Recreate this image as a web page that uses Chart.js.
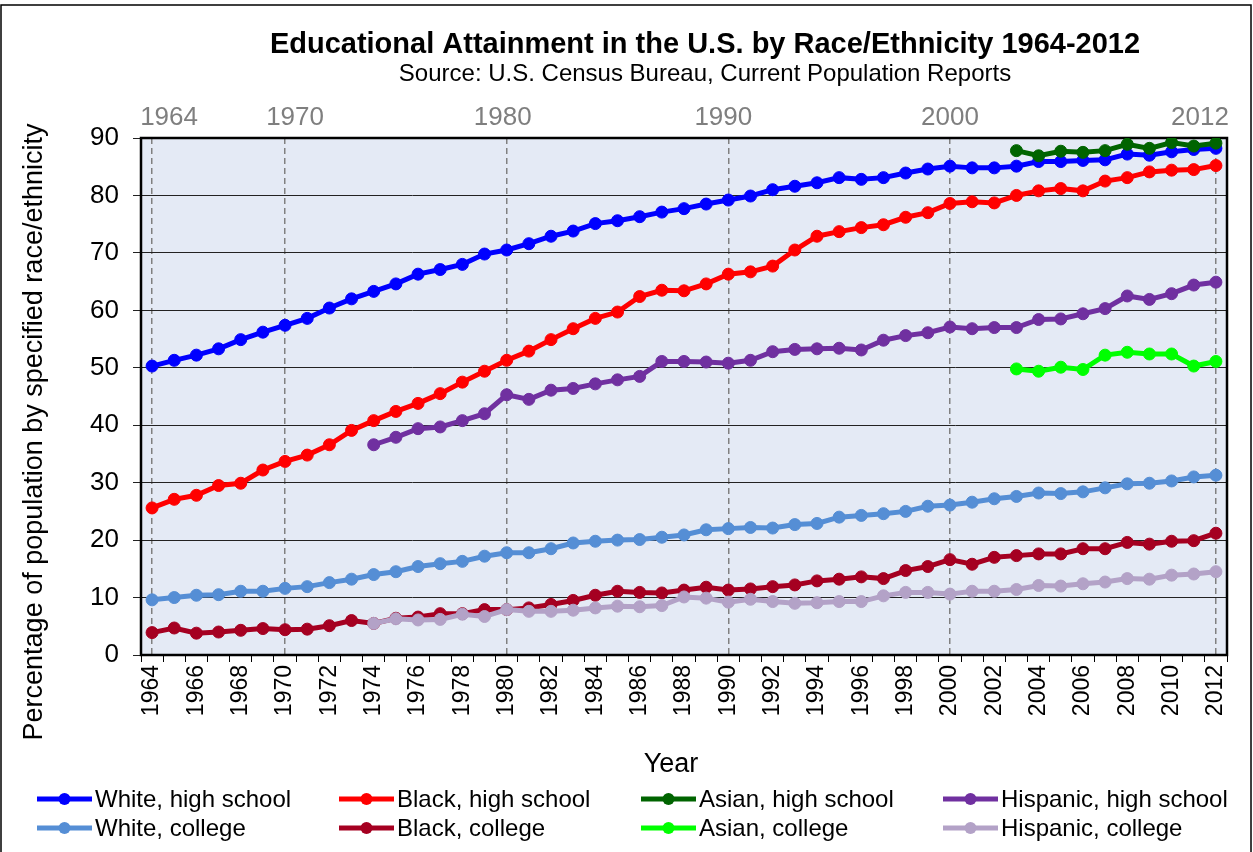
<!DOCTYPE html>
<html>
<head>
<meta charset="utf-8">
<title>Educational Attainment in the U.S. by Race/Ethnicity 1964-2012</title>
<script src="https://cdn.jsdelivr.net/npm/chart.js@4.4.1/dist/chart.umd.min.js"></script>
<style>
    html, body { margin: 0; padding: 0; background: #fff; }
    #wrap { width: 1253px; height: 852px; }
</style>
</head>
<body>
<div id="wrap"><canvas id="chart" width="1253" height="852"></canvas></div>
<script>
"use strict";

var FONT = "'Liberation Sans', Arial, sans-serif";

/* survey years on the x axis */
var years = ["1964", "1965", "1966", "1967", "1968", "1969", "1970", "1971", "1972", "1973",
             "1974", "1975", "1976", "1977", "1978", "1979", "1980", "1981", "1982", "1983",
             "1984", "1985", "1986", "1987", "1988", "1989", "1990", "1991", "1992", "1993",
             "1994", "1995", "1996", "1997", "1998", "1999", "2000", "2001", "2002", "2003",
             "2004", "2005", "2006", "2007", "2008", "2009", "2010", "2011", "2012"];
/* Hispanic figures start in 1974, Asian figures in 2003 */
var hispanicYears = years.slice(10);
var asianYears = years.slice(39);

/* years that get a dashed marker line and a label above the plot */
var markerYears = ["1964", "1970", "1980", "1990", "2000", "2012"];

/* percent with high school diploma */
var whiteHigh = [50.3, 51.3, 52.2, 53.3, 54.9, 56.2, 57.4, 58.6, 60.4, 62.0,
                 63.3, 64.6, 66.3, 67.1, 68.0, 69.8, 70.5, 71.6, 72.9, 73.8,
                 75.1, 75.6, 76.3, 77.1, 77.7, 78.5, 79.2, 79.9, 81.0, 81.6,
                 82.2, 83.1, 82.8, 83.1, 83.9, 84.6, 85.1, 84.8, 84.8, 85.1,
                 85.9, 85.9, 86.1, 86.2, 87.2, 87.0, 87.6, 88.0, 88.2];
var blackHigh = [25.6, 27.1, 27.8, 29.5, 29.9, 32.2, 33.7, 34.8, 36.6, 39.1,
                 40.8, 42.4, 43.8, 45.5, 47.5, 49.4, 51.3, 52.9, 54.9, 56.8,
                 58.6, 59.7, 62.4, 63.5, 63.4, 64.6, 66.3, 66.7, 67.7, 70.5,
                 72.9, 73.7, 74.4, 74.9, 76.2, 77.0, 78.6, 78.9, 78.7, 80.0,
                 80.8, 81.2, 80.8, 82.5, 83.1, 84.1, 84.4, 84.5, 85.2];
var asianHigh = [87.8, 86.9, 87.7, 87.5, 87.8, 88.9, 88.2, 89.2, 88.6, 89.1];
var hispanicHigh = [36.6, 37.9, 39.4, 39.7, 40.8, 42.0, 45.3, 44.5, 46.1, 46.4,
                    47.2, 47.9, 48.5, 51.1, 51.1, 51.0, 50.8, 51.3, 52.8, 53.2,
                    53.3, 53.4, 53.1, 54.8, 55.6, 56.1, 57.1, 56.8, 57.0, 57.0,
                    58.4, 58.5, 59.4, 60.3, 62.5, 61.9, 62.9, 64.4, 64.9];

/* percent with a college degree */
var whiteCollege = [9.6, 10.0, 10.4, 10.5, 11.1, 11.1, 11.6, 11.9, 12.6, 13.2,
                    14.0, 14.5, 15.4, 15.9, 16.3, 17.2, 17.8, 17.8, 18.5, 19.5,
                    19.8, 20.0, 20.1, 20.5, 20.9, 21.8, 22.0, 22.2, 22.1, 22.7,
                    22.9, 24.0, 24.3, 24.6, 25.0, 25.9, 26.1, 26.6, 27.2, 27.6,
                    28.2, 28.1, 28.4, 29.1, 29.8, 29.9, 30.3, 31.0, 31.3];
var blackCollege = [3.9, 4.7, 3.8, 4.0, 4.3, 4.6, 4.4, 4.5, 5.1, 6.0,
                    5.5, 6.4, 6.6, 7.2, 7.2, 7.9, 7.9, 8.2, 8.8, 9.5,
                    10.4, 11.1, 10.9, 10.8, 11.3, 11.8, 11.3, 11.5, 11.9, 12.2,
                    12.9, 13.2, 13.6, 13.3, 14.7, 15.4, 16.6, 15.8, 17.0, 17.3,
                    17.6, 17.6, 18.5, 18.5, 19.6, 19.3, 19.8, 19.9, 21.2];
var asianCollege = [49.8, 49.4, 50.1, 49.7, 52.2, 52.7, 52.4, 52.4, 50.3, 51.1];
var hispanicCollege = [5.5, 6.3, 6.1, 6.2, 7.1, 6.7, 7.9, 7.6, 7.6, 7.8,
                       8.2, 8.5, 8.4, 8.6, 10.1, 9.9, 9.2, 9.7, 9.3, 9.0,
                       9.1, 9.3, 9.3, 10.3, 10.9, 10.9, 10.6, 11.1, 11.1, 11.4,
                       12.1, 12.0, 12.4, 12.7, 13.3, 13.2, 13.9, 14.1, 14.5];

var yTicks = [0, 10, 20, 30, 40, 50, 60, 70, 80, 90];

// pair a series with its years so it lines up on the category axis
function pts(yrs, vals) {
    var out = [];
    for (var i = 0; i < vals.length; i++) {
        out.push({ x: yrs[i], y: vals[i] });
    }
    return out;
}

function series(label, color, data) {
    return {
        label: label,
        data: data,
        borderColor: color,
        backgroundColor: color,
        pointBackgroundColor: color,
        pointBorderColor: color,
        borderWidth: 5,
        pointRadius: 6,
        pointBorderWidth: 1,
        tension: 0,
        spanGaps: false
    };
}

var datasets = [
    series("White, high school", "#0000FF", pts(years, whiteHigh)),
    series("Black, high school", "#FF0000", pts(years, blackHigh)),
    series("Asian, high school", "#006400", pts(asianYears, asianHigh)),
    series("Hispanic, high school", "#7030A0", pts(hispanicYears, hispanicHigh)),
    series("White, college", "#558ED5", pts(years, whiteCollege)),
    series("Black, college", "#A50021", pts(years, blackCollege)),
    series("Asian, college", "#00FF00", pts(asianYears, asianCollege)),
    series("Hispanic, college", "#B3A2C7", pts(hispanicYears, hispanicCollege))
];
// later series paint over earlier ones
for (var d = 0; d < datasets.length; d++) {
    datasets[d].order = datasets.length - d;
}

/* plot background, frame, titles and the two-row legend */
var decorations = {
    id: "decorations",
    beforeDraw: function (chart) {
        var ctx = chart.ctx;
        var a = chart.chartArea;
        ctx.save();
        ctx.fillStyle = "#fff";
        ctx.fillRect(0, 0, chart.width, chart.height);
        ctx.fillStyle = "#E4EAF5";
        ctx.fillRect(a.left, a.top, a.right - a.left, a.bottom - a.top);
        ctx.restore();
    },
    beforeDatasetsDraw: function (chart) {
        var ctx = chart.ctx;
        var a = chart.chartArea;
        ctx.save();
        ctx.strokeStyle = "#000";
        ctx.lineWidth = 2.5;
        ctx.strokeRect(a.left, a.top, a.right - a.left, a.bottom - a.top);
        ctx.restore();
    },
    afterDraw: function (chart) {
        var ctx = chart.ctx;
        var xs = chart.scales.x;
        ctx.save();

        // outer frame
        ctx.strokeStyle = "#000";
        ctx.lineWidth = 1.5;
        ctx.strokeRect(1, 5, chart.width - 3, chart.height + 10);

        ctx.fillStyle = "#000";
        ctx.textAlign = "center";
        ctx.textBaseline = "middle";
        ctx.font = "bold 29px " + FONT;
        ctx.fillText("Educational Attainment in the U.S. by Race/Ethnicity 1964-2012", 705, 45);
        ctx.font = "24px " + FONT;
        ctx.fillText("Source: U.S. Census Bureau, Current Population Reports", 705, 74);

        // year labels over the dashed lines
        var nudge = { "1964": 17, "1970": 10, "1980": -4, "1990": -5, "2000": 0, "2012": -16 };
        ctx.fillStyle = "#7F7F7F";
        ctx.font = "26px " + FONT;
        markerYears.forEach(function (yr) {
            ctx.fillText(yr, xs.getPixelForValue(years.indexOf(yr)) + nudge[yr], 118);
        });

        // axis titles
        ctx.fillStyle = "#000";
        ctx.font = "27px " + FONT;
        ctx.fillText("Year", 671, 765);
        ctx.save();
        ctx.translate(35, 432);
        ctx.rotate(-Math.PI / 2);
        ctx.font = "27px " + FONT;
        ctx.fillText("Percentage of population by specified race/ethnicity", 0, 0);
        ctx.restore();

        // legend: four columns, two rows
        ctx.textAlign = "left";
        ctx.font = "24px " + FONT;
        chart.data.datasets.forEach(function (ds, i) {
            var x0 = 37 + (i % 4) * 302;
            var y0 = 799 + Math.floor(i / 4) * 29;
            ctx.strokeStyle = ds.borderColor;
            ctx.lineWidth = 5;
            ctx.beginPath();
            ctx.moveTo(x0, y0);
            ctx.lineTo(x0 + 55, y0);
            ctx.stroke();
            ctx.fillStyle = ds.borderColor;
            ctx.beginPath();
            ctx.arc(x0 + 27.5, y0, 6, 0, Math.PI * 2);
            ctx.fill();
            ctx.fillStyle = "#000";
            ctx.fillText(ds.label, x0 + 58, y0 + 1);
        });
        ctx.restore();
    }
};

var ctx0 = document.getElementById("chart");
var myChart = new Chart(ctx0, {
    type: "line",
    data: {
        labels: years,
        datasets: datasets
    },
    options: {
        responsive: false,
        animation: false,
        layout: { padding: { left: 0, right: 26, top: 0, bottom: 0 } },
        plugins: {
            legend: { display: false },
            title: { display: false },
            tooltip: { enabled: false }
        },
        scales: {
            x: {
                type: "category",
                position: "bottom",
                offset: true,
                grid: { offset: true, drawOnChartArea: false, tickLength: 7, color: "#000" },
                border: { display: false },
                ticks: {
                    autoSkip: false,
                    minRotation: 90,
                    maxRotation: 90,
                    padding: 3,
                    color: "#000",
                    font: { size: 23, family: FONT },
                    callback: function (val, i) {
                        return i % 2 === 0 ? years[i] : "";
                    }
                },
                afterFit: function (scale) { scale.height = 197; }
            },
            xTop: {
                type: "category",
                position: "top",
                labels: years,
                offset: true,
                grid: {
                    offset: false,
                    drawTicks: false,
                    lineWidth: 1.5,
                    color: function (c) {
                        return markerYears.indexOf(years[c.index]) >= 0 ? "#808080" : "rgba(0,0,0,0)";
                    }
                },
                border: { display: false, dash: [6, 4] },
                ticks: { display: false },
                afterFit: function (scale) { scale.height = 138; }
            },
            y: {
                min: 0,
                max: 90,
                afterBuildTicks: function (scale) {
                    scale.ticks = yTicks.map(function (v) { return { value: v }; });
                },
                grid: { color: "#222", lineWidth: 1, tickLength: 8 },
                border: { display: false },
                ticks: { color: "#000", padding: 14, font: { size: 26, family: FONT } },
                afterFit: function (scale) { scale.width = 141; }
            }
        }
    },
    plugins: [decorations]
});
</script>
</body>
</html>
